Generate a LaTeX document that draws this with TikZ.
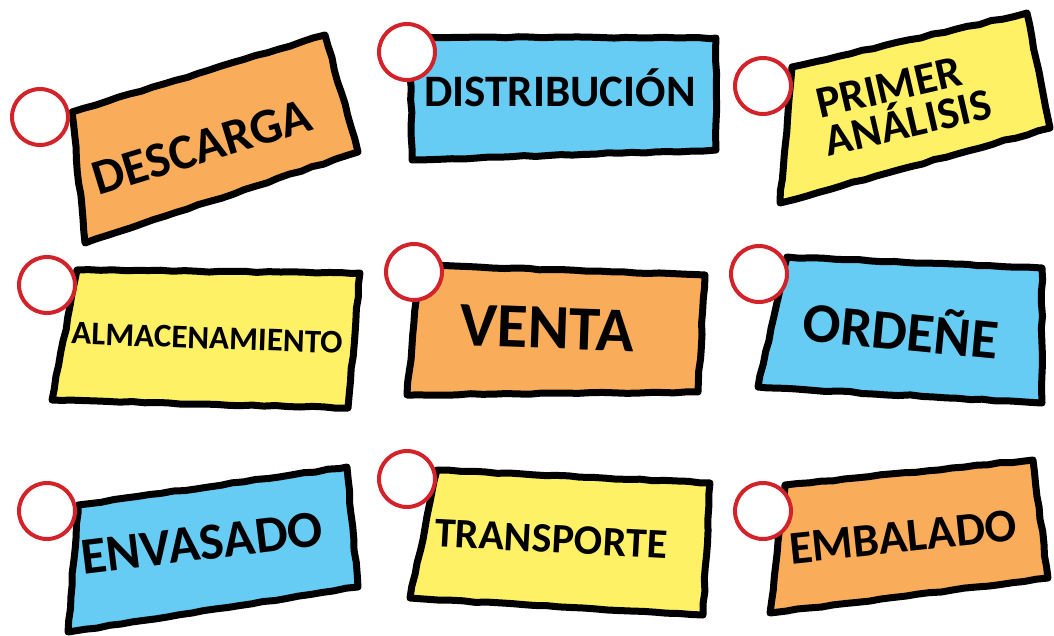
\documentclass[tikz,border=0pt]{standalone}
\usepackage{fontspec}
\setmainfont{Carlito}
\usetikzlibrary{decorations.pathmorphing}
\definecolor{tagorange}{HTML}{F9AD5B}
\definecolor{tagblue}{HTML}{66CCF4}
\definecolor{tagyellow}{HTML}{FFF166}
\definecolor{ringred}{HTML}{D2232A}

\begin{document}
\begin{tikzpicture}[x=1pt, y=-1pt,
  card/.style={draw=black, line width=7pt, line join=round, decorate, decoration={random steps, segment length=12pt, amplitude=0.7pt}},
  tagtext/.style={node font=\bfseries\fontsize{#1}{#1}\selectfont, inner sep=0pt, text height=0.65em, text depth=0pt},
  ring/.style={circle, draw=ringred, fill=white, line width=4pt, minimum size=56pt, inner sep=0pt}]
\pgfmathsetseed{7}
\useasboundingbox (0,0) rectangle (1054,635);

% top row
\draw [card, fill=tagorange] (72,112) -- (325,35) -- (358,152) -- (85,243) -- cycle;
\node (descarga) [tagtext=50, rotate=17] at (202,147) {DESCARGA};
\node (r1) [ring] at (40,117) {};

\draw [card, fill=tagblue] (410,37) -- (716,38) -- (716,150) -- (412,160) -- cycle;
\node (distribucion) [tagtext=45] at (560,92) {DISTRIBUCIÓN};
\node (r2) [ring] at (407,52) {};

\draw [card, fill=tagyellow] (792,67) -- (1027,13) -- (1050,128) -- (780,203) -- cycle;
\node (analisis) [tagtext=45, rotate=13, align=left, text height=, text depth=] at (904,104) {PRIMER\\[-6pt]ANÁLISIS};
\node (r3) [ring] at (763,86) {};

% middle row
\draw [card, fill=tagyellow] (77,270) -- (360,273) -- (348,408) -- (52,400) -- cycle;
\node (almacenamiento) [tagtext=33, rotate=-2] at (207,338) {ALMACENAMIENTO};
\node (r4) [ring] at (47,285) {};

\draw [card, fill=tagorange] (420,265) -- (705,275) -- (698,392) -- (407,395) -- cycle;
\node (venta) [tagtext=63, rotate=-2] at (547,328) {VENTA};
\node (r5) [ring] at (414,272) {};

\draw [card, fill=tagblue] (787,257) -- (1042,268) -- (1042,403) -- (758,387) -- cycle;
\node (ordene) [tagtext=56, rotate=-5.5] at (901,332) {ORDEÑE};
\node (r6) [ring] at (759,274) {};

% bottom row
\draw [card, fill=tagblue] (78,505) -- (347,467) -- (358,587) -- (68,632) -- cycle;
\node (envasado) [tagtext=52, rotate=7] at (202,543) {ENVASADO};
\node (r7) [ring] at (47,511) {};

\draw [card, fill=tagyellow] (437,470) -- (710,483) -- (703,615) -- (410,598) -- cycle;
\node (transporte) [tagtext=42, rotate=-3] at (551,539) {TRANSPORTE};
\node (r8) [ring] at (407,479) {};

\draw [card, fill=tagorange] (785,485) -- (1033,460) -- (1048,578) -- (770,613) -- cycle;
\node (embalado) [tagtext=47, rotate=6] at (903,537) {EMBALADO};
\node (r9) [ring] at (763,511) {};
\end{tikzpicture}
\end{document}
